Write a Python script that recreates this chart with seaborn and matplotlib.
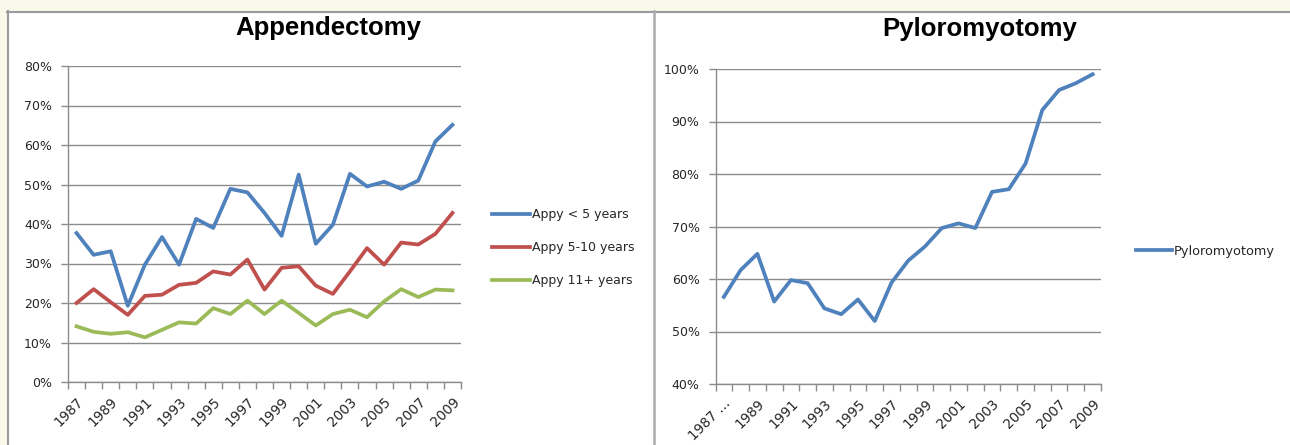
import matplotlib
matplotlib.use("Agg")
import matplotlib.pyplot as plt
from matplotlib.patches import Rectangle
from matplotlib.lines import Line2D
from matplotlib.ticker import FuncFormatter, FixedLocator
import seaborn as sns
import pandas as pd

# ---- data ----
years = list(range(1987, 2010))
appy_under5 = [37.7, 32.2, 33.1, 19.3, 29.7, 36.7, 29.7, 41.3, 39.0, 48.9, 48.0, 42.8,
               37.0, 52.5, 35.0, 39.8, 52.7, 49.5, 50.7, 48.9, 51.0, 60.9, 65.1]
appy_5_10 = [20.0, 23.5, 20.2, 17.0, 21.8, 22.1, 24.6, 25.1, 28.0, 27.2, 31.0, 23.4,
             28.9, 29.3, 24.4, 22.3, 28.0, 33.9, 29.7, 35.3, 34.8, 37.5, 42.8]
appy_11plus = [14.1, 12.7, 12.2, 12.6, 11.3, 13.2, 15.1, 14.8, 18.7, 17.2, 20.6, 17.2,
               20.6, 17.5, 14.3, 17.2, 18.3, 16.4, 20.4, 23.5, 21.5, 23.4, 23.2]
pyloro = [56.6, 61.7, 64.8, 55.7, 59.8, 59.2, 54.4, 53.3, 56.1, 52.0, 59.3, 63.5,
          66.2, 69.7, 70.6, 69.7, 76.6, 77.1, 82.0, 92.2, 96.0, 97.3, 99.0]

appy_names = ["Appy < 5 years", "Appy 5-10 years", "Appy 11+ years"]
pyloro_name = "Pyloromyotomy"
left_labels = [str(y) if (y - 1987) % 2 == 0 else "" for y in years]
right_labels = list(left_labels)
right_labels[0] = "1987 …"

colors = {"Appy < 5 years": "#4F81BD", "Appy 5-10 years": "#C0504D",
          "Appy 11+ years": "#9BBB59", "Pyloromyotomy": "#4F81BD"}

idx = list(range(len(years)))
appy_df = pd.DataFrame({
    "pos": idx * 3,
    "value": appy_under5 + appy_5_10 + appy_11plus,
    "series": [appy_names[0]] * len(idx) + [appy_names[1]] * len(idx) + [appy_names[2]] * len(idx),
})
pyloro_df = pd.DataFrame({"pos": idx, "value": pyloro, "series": [pyloro_name] * len(idx)})

# ---- figure ----
W, H = 1290, 445
plt.rcParams["font.family"] = ["DejaVu Sans"]
fig = plt.figure(figsize=(W / 100, H / 100), dpi=100, facecolor="#FAF8EB")

# white chart panel with grey frame and divider (kept beneath the axes)
fig.patches.append(Rectangle((7 / W, 0), 1, 1 - 11 / H, transform=fig.transFigure,
                             facecolor="white", edgecolor="none", zorder=-10))
fig.lines.append(Line2D([7 / W, 1], [1 - 11.5 / H, 1 - 11.5 / H], transform=fig.transFigure,
                        color="#9A9A9A", lw=1.5, zorder=-5))
fig.lines.append(Line2D([7.5 / W, 7.5 / W], [0, 1 - 11 / H], transform=fig.transFigure,
                        color="#9A9A9A", lw=1.5, zorder=-5))
fig.lines.append(Line2D([653.5 / W, 653.5 / W], [0, 1 - 11 / H], transform=fig.transFigure,
                        color="#ABABAB", lw=1.8, zorder=-5))

ax1 = fig.add_axes([68 / W, 1 - 382 / H, (461 - 68) / W, (382 - 66) / H])
ax2 = fig.add_axes([715.5 / W, 1 - 384 / H, (1101 - 715.5) / W, (384 - 69) / H])

grid_c = "#8C8C8C"
text_c = "#262626"


def style_axis(ax, ymin, ymax, labels):
    ax.set_facecolor("none")
    ax.set_xlim(-0.5, len(years) - 0.5)
    ax.set_ylim(ymin, ymax)
    ax.set_yticks(range(ymin, ymax + 1, 10))
    ax.yaxis.set_major_formatter(FuncFormatter(lambda v, p: f"{int(round(v))}%"))
    ax.grid(axis="y", color=grid_c, lw=1.0)
    ax.set_axisbelow(True)
    for s in ["top", "right"]:
        ax.spines[s].set_visible(False)
    for s in ["left", "bottom"]:
        ax.spines[s].set_color(grid_c)
        ax.spines[s].set_linewidth(1.0)
    ax.xaxis.set_major_locator(FixedLocator(idx))
    ax.set_xticklabels(labels, rotation=45, ha="right", rotation_mode="anchor",
                       fontsize=9.8, color=text_c)
    ax.tick_params(axis="x", which="major", length=0, pad=9)
    ax.xaxis.set_minor_locator(FixedLocator([i - 0.5 for i in range(len(years) + 1)]))
    ax.tick_params(axis="x", which="minor", length=5, color=grid_c, width=1)
    ax.tick_params(axis="y", length=5, color=grid_c, width=1, labelsize=9.0,
                   labelcolor=text_c, pad=6.5)
    ax.set_xlabel("")
    ax.set_ylabel("")


sns.lineplot(data=appy_df, x="pos", y="value", hue="series", palette=colors,
             hue_order=appy_names, lw=2.7, ax=ax1, legend=False)
sns.lineplot(data=pyloro_df, x="pos", y="value", hue="series", palette=colors,
             lw=2.7, ax=ax2, legend=False)

style_axis(ax1, 0, 80, left_labels)
style_axis(ax2, 40, 100, right_labels)

# chart titles placed in figure pixels
fig.text(328 / W, 1 - 28 / H, "Appendectomy", fontsize=18.5, fontweight="bold",
         family="Liberation Sans", ha="center", va="center")
fig.text(980 / W, 1 - 29 / H, "Pyloromyotomy", fontsize=18.5, fontweight="bold",
         family="Liberation Sans", ha="center", va="center")

# legends
leg_handles = [Line2D([], [], color=colors[n], lw=2.7) for n in appy_names]
fig.legend(leg_handles, appy_names, loc="center left", bbox_to_anchor=(481 / W, 1 - 247.5 / H),
           frameon=False, fontsize=9, handlelength=3.0, handletextpad=0.15,
           labelspacing=1.6, labelcolor=text_c)
fig.legend([Line2D([], [], color=colors[pyloro_name], lw=2.7)], [pyloro_name],
           loc="center left", bbox_to_anchor=(1124 / W, 1 - 251 / H), frameon=False,
           fontsize=9.3, handlelength=2.8, handletextpad=0.15, labelcolor=text_c)

fig.savefig("out.png", dpi=100, facecolor=fig.get_facecolor())
